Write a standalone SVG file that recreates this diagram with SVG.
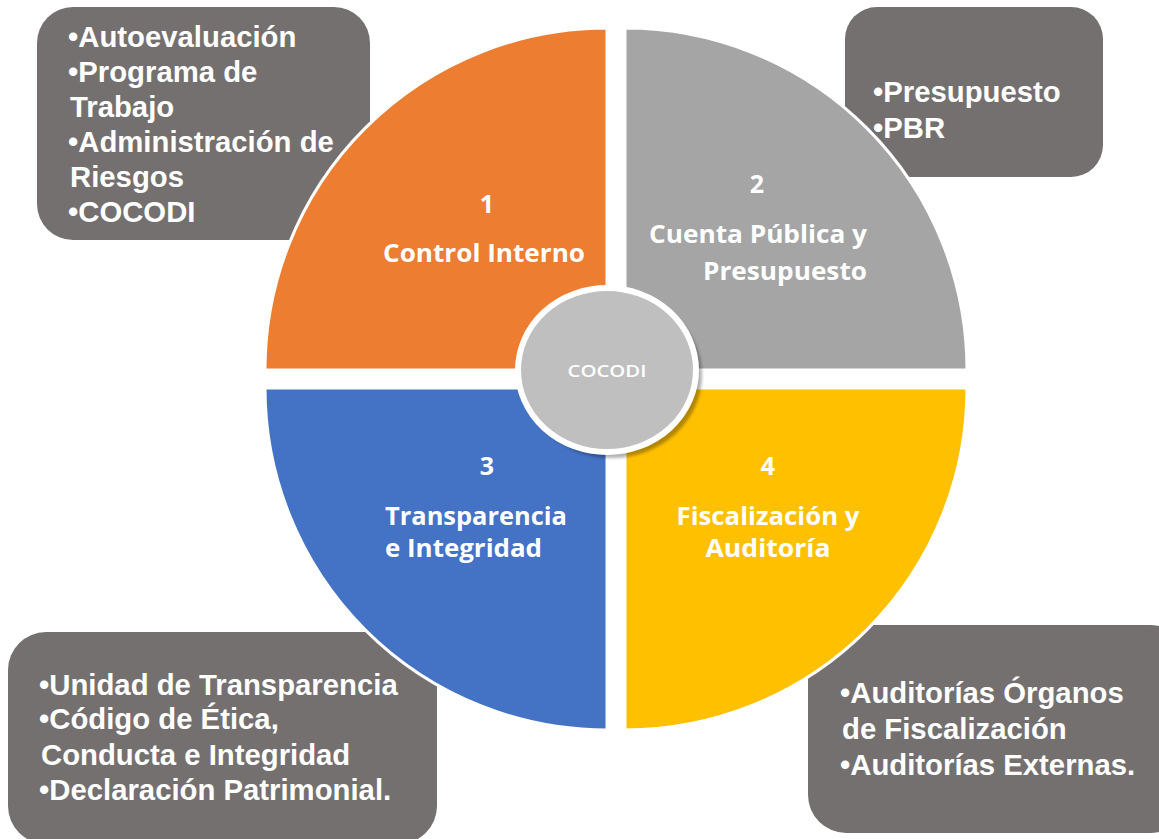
<svg xmlns="http://www.w3.org/2000/svg" width="1159" height="839" viewBox="0 0 1159 839">
<style>
.box{fill:#757070;}
.bt{font-family:"Liberation Sans",Arial,sans-serif;font-weight:bold;font-size:29.3px;fill:#ffffff;}
.q{stroke:#ffffff;stroke-width:3;}
.qt{font-family:"Open Sans","Noto Sans",sans-serif;font-weight:bold;font-size:25px;fill:#ffffff;}
.ct{font-family:"Open Sans","Noto Sans",sans-serif;font-weight:600;font-size:17px;fill:#ffffff;}
</style>
<defs>
<filter id="blur" x="-20%" y="-20%" width="140%" height="140%"><feGaussianBlur stdDeviation="1.5"/></filter>
</defs>
<rect width="1159" height="839" fill="#ffffff"/>
<g id="box-control-interno">
<rect class="box" x="37" y="7" width="333" height="233" rx="36"/>
<text class="bt" x="68" y="47">•Autoevaluación</text>
<text class="bt" x="68" y="82">•Programa de</text>
<text class="bt" x="70" y="117">Trabajo</text>
<text class="bt" x="68" y="152">•Administración de</text>
<text class="bt" x="70" y="187">Riesgos</text>
<text class="bt" x="68" y="222">•COCODI</text>
</g>
<g id="box-cuenta-publica">
<rect class="box" x="845" y="7" width="258" height="170" rx="32"/>
<text class="bt" x="873" y="102">•Presupuesto</text>
<text class="bt" x="873" y="138">•PBR</text>
</g>
<g id="box-transparencia">
<rect class="box" x="8" y="632" width="429" height="212" rx="38"/>
<text class="bt" x="39" y="695">•Unidad de Transparencia</text>
<text class="bt" x="39" y="729">•Código de Ética,</text>
<text class="bt" x="41" y="765">Conducta e Integridad</text>
<text class="bt" x="39" y="800">•Declaración Patrimonial.</text>
</g>
<g id="box-fiscalizacion">
<rect class="box" x="808" y="625" width="380" height="208" rx="38"/>
<text class="bt" x="840" y="703">•Auditorías Órganos</text>
<text class="bt" x="842" y="739">de Fiscalización</text>
<text class="bt" x="840" y="775">•Auditorías Externas.</text>
</g>
<g id="q1-control-interno">
<path class="q" d="M607,370 L265,370 A342,342 0 0 1 607,28 Z" fill="#ED7D31"/>
<text class="qt" x="487" y="213" text-anchor="middle">1</text>
<text class="qt" x="484" y="262" text-anchor="middle" textLength="202" lengthAdjust="spacingAndGlyphs">Control Interno</text>
</g>
<g id="q2-cuenta-publica">
<path class="q" d="M625,370 L625,28 A342,342 0 0 1 967,370 Z" fill="#A5A5A5"/>
<text class="qt" x="757" y="193" text-anchor="middle">2</text>
<text class="qt" x="758" y="243" text-anchor="middle" textLength="218" lengthAdjust="spacingAndGlyphs">Cuenta Pública y</text>
<text class="qt" x="785" y="280" text-anchor="middle" textLength="164" lengthAdjust="spacingAndGlyphs">Presupuesto</text>
</g>
<g id="q3-transparencia">
<path class="q" d="M607,388 L607,730 A342,342 0 0 1 265,388 Z" fill="#4472C4"/>
<text class="qt" x="487" y="475" text-anchor="middle">3</text>
<text class="qt" x="385" y="525" textLength="182" lengthAdjust="spacingAndGlyphs">Transparencia</text>
<text class="qt" x="385" y="557" textLength="157" lengthAdjust="spacingAndGlyphs">e Integridad</text>
</g>
<g id="q4-fiscalizacion">
<path class="q" d="M625,388 L967,388 A342,342 0 0 1 625,730 Z" fill="#FFC000"/>
<text class="qt" x="768" y="475" text-anchor="middle">4</text>
<text class="qt" x="768" y="525" text-anchor="middle" textLength="183" lengthAdjust="spacingAndGlyphs">Fiscalización y</text>
<text class="qt" x="768" y="557" text-anchor="middle" textLength="125" lengthAdjust="spacingAndGlyphs">Auditoría</text>
</g>
<g id="center-cocodi">
<ellipse cx="612" cy="375" rx="90" ry="83" fill="#000000" opacity="0.3" filter="url(#blur)"/>
<ellipse cx="607" cy="370" rx="89" ry="82" fill="#BFBFBF" stroke="#ffffff" stroke-width="6"/>
<text class="ct" x="607" y="377" text-anchor="middle" textLength="79" lengthAdjust="spacingAndGlyphs">COCODI</text>
</g>
<g id="connectors"/>
</svg>
